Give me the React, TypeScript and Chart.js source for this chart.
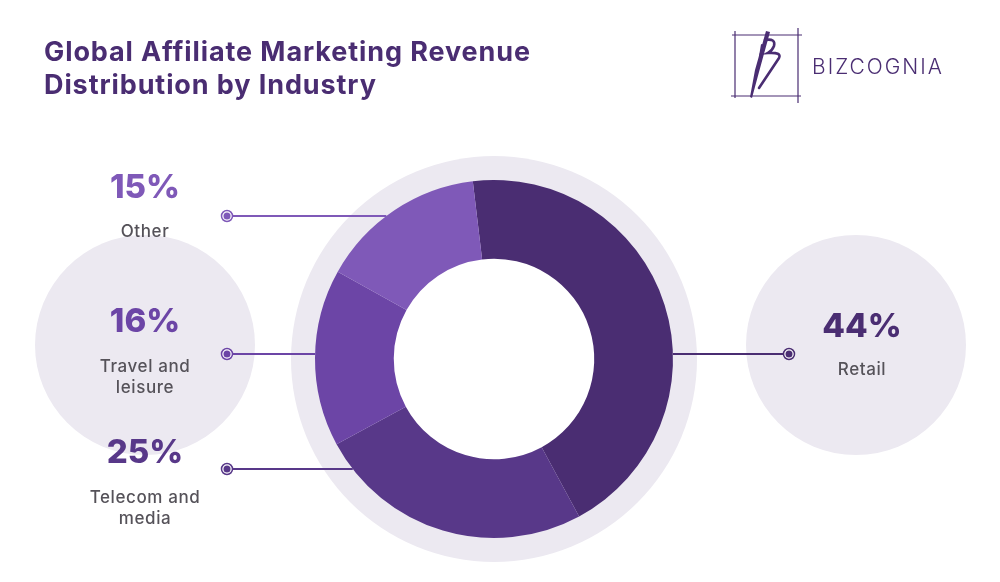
import React, { useEffect, useRef } from "react";
import { Chart, registerables } from "chart.js";

Chart.register(...registerables);

const titleLines = ["Global Affiliate Marketing Revenue", "Distribution by Industry"];
const categories = ["Retail", "Telecom and media", "Travel and leisure", "Other"];
const shares = [44, 25, 16, 15];
const brand = "BIZCOGNIA";

const segmentColors = ["#4a2d72", "#583889", "#6c45a6", "#7f59b8"];
// annotation layout per category: side, connector y, dot x, text center x, pct y, label first-line y
const annot = [
  { side: "right", y: 354, dotX: 789, tx: 862, pctY: 327, labY: 370 },
  { side: "left", y: 469, dotX: 227, tx: 145, pctY: 453, labY: 498 },
  { side: "left", y: 354, dotX: 227, tx: 145, pctY: 322, labY: 367 },
  { side: "left", y: 216, dotX: 227, tx: 145, pctY: 188, labY: 232 },
];

const FONT = "Inter, 'Open Sans', sans-serif";

function wrap(label: string): string[] {
  const w = label.split(" ");
  if (w.length <= 2) return [label];
  return [w.slice(0, w.length - 1).join(" "), w[w.length - 1]];
}

const decor = {
  id: "decor",
  beforeDatasetsDraw(chart: any) {
    const ctx = chart.ctx;
    const arc = chart.getDatasetMeta(0).data[0];
    const cx = arc.x, cy = arc.y, R = arc.outerRadius, r = arc.innerRadius;
    ctx.save();
    ctx.fillStyle = "#ece9f1";
    // side circles
    ctx.beginPath(); ctx.arc(145, 345, 110, 0, Math.PI * 2); ctx.fill();
    ctx.beginPath(); ctx.arc(856, 345, 110, 0, Math.PI * 2); ctx.fill();
    // ring behind donut
    ctx.beginPath(); ctx.arc(cx, cy, R + 24, 0, Math.PI * 2); ctx.fill();
    ctx.fillStyle = "#ffffff";
    ctx.beginPath(); ctx.arc(cx, cy, r + 1, 0, Math.PI * 2); ctx.fill();
    ctx.restore();
  },
  afterDatasetsDraw(chart: any) {
    const ctx = chart.ctx;
    const arc = chart.getDatasetMeta(0).data[0];
    const cx = arc.x, cy = arc.y, R = arc.outerRadius;
    ctx.save();
    // title
    ctx.fillStyle = "#4a2d72";
    ctx.font = `700 27px ${FONT}`;
    (ctx as any).letterSpacing = "0.9px";
    ctx.textBaseline = "alphabetic";
    ctx.textAlign = "left";
    ctx.fillText(titleLines[0], 44, 61);
    ctx.fillText(titleLines[1], 44, 94);

    // connectors + labels
    categories.forEach((cat, i) => {
      const a = annot[i];
      const col = segmentColors[i];
      const dy = a.y - cy;
      const half = Math.sqrt(Math.max(0, R * R - dy * dy));
      const edgeX = a.side === "left" ? cx - half : cx + half;
      ctx.strokeStyle = col;
      ctx.lineWidth = 2;
      ctx.beginPath(); ctx.moveTo(a.dotX, a.y); ctx.lineTo(edgeX, a.y); ctx.stroke();
      ctx.fillStyle = "#ffffff";
      ctx.beginPath(); ctx.arc(a.dotX, a.y, 6, 0, Math.PI * 2); ctx.fill();
      ctx.lineWidth = 1.5;
      ctx.beginPath(); ctx.arc(a.dotX, a.y, 5.5, 0, Math.PI * 2); ctx.stroke();
      ctx.fillStyle = col;
      ctx.beginPath(); ctx.arc(a.dotX, a.y, 3.5, 0, Math.PI * 2); ctx.fill();

      ctx.textAlign = "center";
      ctx.textBaseline = "middle";
      ctx.fillStyle = col;
      ctx.font = `800 33px ${FONT}`;
      (ctx as any).letterSpacing = "0px";
      ctx.fillText(`${shares[i]}%`, a.tx, a.pctY);
      ctx.fillStyle = "#555259";
      ctx.font = `500 17px ${FONT}`;
      (ctx as any).letterSpacing = "0.6px";
      wrap(cat).forEach((ln, k) => ctx.fillText(ln, a.tx, a.labY + k * 20.5));
    });

    // logo
    (ctx as any).letterSpacing = "0px";
    ctx.strokeStyle = "#4a2d72";
    ctx.lineWidth = 1.2;
    ctx.beginPath();
    ctx.moveTo(735, 31); ctx.lineTo(735, 98);
    ctx.moveTo(732, 35); ctx.lineTo(802, 35);
    ctx.moveTo(798, 28); ctx.lineTo(798, 103);
    ctx.moveTo(731, 96); ctx.lineTo(801, 96);
    ctx.stroke();
    ctx.fillStyle = "#4a2d72";
    // main slanted stroke
    ctx.beginPath();
    ctx.moveTo(766, 31); ctx.lineTo(770, 32); ctx.lineTo(759, 72); ctx.lineTo(752, 98); ctx.lineTo(750, 97); ctx.lineTo(755, 70);
    ctx.closePath(); ctx.fill();
    ctx.lineCap = "round";
    ctx.lineWidth = 2.2;
    ctx.beginPath(); ctx.moveTo(762, 45); ctx.lineTo(760, 57); ctx.stroke();
    ctx.lineWidth = 2.6;
    ctx.beginPath();
    ctx.moveTo(765, 40);
    ctx.quadraticCurveTo(776, 38, 774, 46);
    ctx.quadraticCurveTo(772, 51, 768, 53);
    ctx.quadraticCurveTo(782, 52, 779, 58);
    ctx.lineTo(759, 88);
    ctx.stroke();

    ctx.font = `300 21px ${FONT}`;
    (ctx as any).letterSpacing = "2px";
    ctx.textAlign = "left";
    ctx.textBaseline = "alphabetic";
    ctx.fillText(brand, 812, 74);
    ctx.restore();
  },
};

export default function App() {
  const ref = useRef<HTMLCanvasElement>(null);
  useEffect(() => {
    if (!ref.current) return;
    const chart = new Chart(ref.current, {
      type: "doughnut",
      data: {
        labels: categories,
        datasets: [
          {
            data: shares,
            backgroundColor: segmentColors,
            borderWidth: 0,
          },
        ],
      },
      options: {
        responsive: false,
        animation: false,
        rotation: -6.8,
        cutout: "56%",
        layout: { padding: { left: 315, right: 327, top: 180, bottom: 44 } },
        plugins: { legend: { display: false }, tooltip: { enabled: false }, title: { display: false } },
        events: [],
      },
      plugins: [decor],
    });
    return () => chart.destroy();
  }, []);
  return (
    <div style={{ position: "absolute", left: 0, top: 0, width: 1000, height: 582, background: "#fff" }}>
      <canvas ref={ref} width={1000} height={582} style={{ width: 1000, height: 582 }} />
    </div>
  );
}
